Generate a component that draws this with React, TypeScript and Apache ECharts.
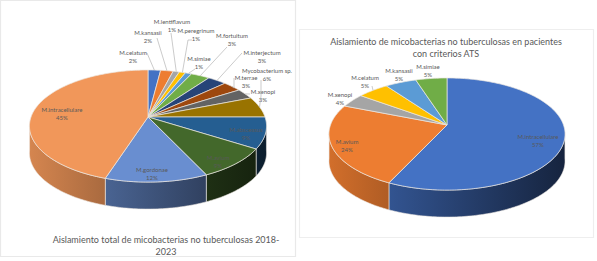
import React, { useEffect, useRef } from "react";
import * as echarts from "echarts";

// ---------- data ----------
const leftNames = ["M.celatum", "M.kansasii", "M.lentiflavum", "M.peregrinum", "M.simiae", "M.fortuitum", "M.interjectum", "M.terrae", "M.xenopi", "Mycobacterium sp.", "M.abscessus", "M.avium", "M.gordonae", "M.intracellulare"];
const leftValues = [2, 2, 1, 1, 1, 3, 3, 3, 3, 6, 9, 9, 12, 45];
const leftColors = ["#4472C4", "#ED7D31", "#A5A5A5", "#FFC000", "#5B9BD5", "#70AD47", "#264478", "#9E480E", "#636363", "#997300", "#255E91", "#43682B", "#698ED0", "#F1975A"];

const rightNames = ["M.intracellulare", "M.avium", "M.xenopi", "M.celatum", "M.kansasii", "M.simiae"];
const rightValues = [57, 24, 4, 5, 5, 5];
const rightColors = ["#4472C4", "#ED7D31", "#A5A5A5", "#FFC000", "#5B9BD5", "#70AD47"];

const leftTitle = "Aislamiento total de micobacterias no tuberculosas 2018-\n2023";
const rightTitle = "Aislamiento de micobacterias no tuberculosas en pacientes\ncon criterios ATS";

// ---------- layout ----------
type Pie = { cx: number; cy: number; a: number; b: number; k: number; depth: number };
const leftPie: Pie = { cx: 148, cy: 117, a: 117, b: 54.6, k: 0.161, depth: 27 };
const rightPie: Pie = { cx: 447, cy: 125, a: 116.5, b: 54.6, k: 0.161, depth: 27 };

// label centre x, y, then optional leader elbows (ending on the slice's rim)
const leftLabelLayout: number[][] = [
  [133, 56, 147, 53],
  [148, 36, 157, 38],
  [172, 25, 171, 33],
  [196, 34, 192, 40, 188, 40],
  [199, 62, 195, 69],
  [232, 39, 227, 47],
  [262, 56, 242, 53],
  [246, 81, 234, 78, 234, 88],
  [263, 95, 250, 94],
  [267, 74, 261, 80, 261, 96],
  [246, 133],
  [218, 161],
  [152, 173],
  [62, 113],
];
const rightLabelLayout: number[][] = [
  [538, 140],
  [347, 145],
  [340, 98],
  [365, 81, 372, 86],
  [399, 74],
  [428, 70],
];

const labelFont = "6px Lato, sans-serif";
const labelColor = "#595959";
const edgeColor = "#ecE8E2";

// ---------- projection ----------
function rim(p: Pie, deg: number, drop = 0): number[] {
  const t = (deg * Math.PI) / 180;
  const u = Math.sin(t);
  const v = -Math.cos(t);
  const w = 1 - p.k * v;
  return [p.cx + (p.a * u) / w, p.cy + (p.b * v) / w + drop];
}
function isFront(deg: number) {
  return -Math.cos((deg * Math.PI) / 180) >= 0.12;
}
function sweep(from: number, to: number): number[] {
  const out = [from];
  for (let d = Math.ceil(from); d < to; d += 1) if (d > from) out.push(d);
  out.push(to);
  return out;
}
function shade(hex: string, f: number) {
  const n = parseInt(hex.slice(1), 16);
  const c = [(n >> 16) & 255, (n >> 8) & 255, n & 255].map((x) => Math.round(x * f));
  return `rgb(${c[0]},${c[1]},${c[2]})`;
}
function spans(values: number[]) {
  const total = values.reduce((s, v) => s + v, 0);
  let acc = 0;
  return values.map((v) => {
    const start = (acc / total) * 360;
    acc += v;
    return [start, (acc / total) * 360];
  });
}

function pieSeries(p: Pie, names: string[], values: number[], colors: string[], layout: number[][]) {
  const ang = spans(values);
  const data = values.map((v, i) => ({ name: names[i], value: [v] }));
  const base = { type: "custom", coordinateSystem: "none", silent: true, data, animation: false };
  return [
    {
      ...base,
      renderItem: (params: any) => {
        const i = params.dataIndex;
        const ds = sweep(ang[i][0], ang[i][1]).filter(isFront);
        if (ds.length < 2) return null;
        const top = ds.map((d) => rim(p, d));
        const bottom = ds.map((d) => rim(p, d, p.depth)).reverse();
        const fill = new echarts.graphic.LinearGradient(p.cx - p.a, 0, p.cx + p.a, 0, [
          { offset: 0, color: shade(colors[i], 0.88) },
          { offset: 1, color: shade(colors[i], 0.32) },
        ], true);
        return { type: "polygon", shape: { points: [...top, ...bottom] }, style: { fill, stroke: edgeColor, lineWidth: 0.6 } };
      },
    },
    {
      ...base,
      renderItem: (params: any, api: any) => {
        const i = params.dataIndex;
        const pts = sweep(ang[i][0], ang[i][1]).map((d) => rim(p, d));
        pts.unshift([p.cx, p.cy]);
        return { type: "polygon", shape: { points: pts }, style: { fill: colors[i], stroke: edgeColor, lineWidth: 0.7, lineJoin: "round" } };
      },
    },
    {
      ...base,
      renderItem: (params: any, api: any) => {
        const i = params.dataIndex;
        const [x, y, ...elbows] = layout[i];
        const children: any[] = [];
        if (elbows.length) {
          const pts: number[][] = [];
          for (let e = 0; e < elbows.length; e += 2) pts.push([elbows[e], elbows[e + 1]]);
          pts.push(rim(p, (ang[i][0] + ang[i][1]) / 2));
          children.push({ type: "polyline", shape: { points: pts }, style: { stroke: "#b4b4b4", lineWidth: 0.7, fill: "none" } });
        }
        children.push({
          type: "text",
          x,
          y,
          style: { text: `${names[i]}\n${api.value(0)}%`, font: labelFont, lineHeight: 8, fill: labelColor, align: "center", verticalAlign: "middle" },
        });
        return { type: "group", children };
      },
    },
  ];
}

const titleStyle = { fontFamily: "Lato, sans-serif", fontSize: 9, fontWeight: "normal" as const, color: "#595959", lineHeight: 12, align: "center" as const };

export default function App() {
  const ref = useRef<HTMLDivElement>(null);
  useEffect(() => {
    const chart = echarts.init(ref.current!, null, { renderer: "svg" });
    chart.setOption({
      animation: false,
      backgroundColor: "#ffffff",
      title: [
        { text: leftTitle, left: 166, top: 233, textAlign: "center", textStyle: titleStyle, padding: 0 },
        { text: rightTitle, left: 446, top: 35, textAlign: "center", textStyle: titleStyle, padding: 0 },
      ],
      graphic: [
        { type: "rect", z: -1, shape: { x: 0.5, y: 0.5, width: 295, height: 256 }, style: { fill: "#fff", stroke: "#e9e9e9", lineWidth: 1.2 } },
        { type: "rect", z: -1, shape: { x: 299.5, y: 29.5, width: 294, height: 208 }, style: { fill: "#fff", stroke: "#eeeeee", lineWidth: 1.2 } },
      ],
      series: [
        ...pieSeries(leftPie, leftNames, leftValues, leftColors, leftLabelLayout),
        ...pieSeries(rightPie, rightNames, rightValues, rightColors, rightLabelLayout),
      ],
    });
    return () => chart.dispose();
  }, []);
  return <div ref={ref} style={{ position: "fixed", left: 0, top: 0, width: 597, height: 261 }} />;
}
